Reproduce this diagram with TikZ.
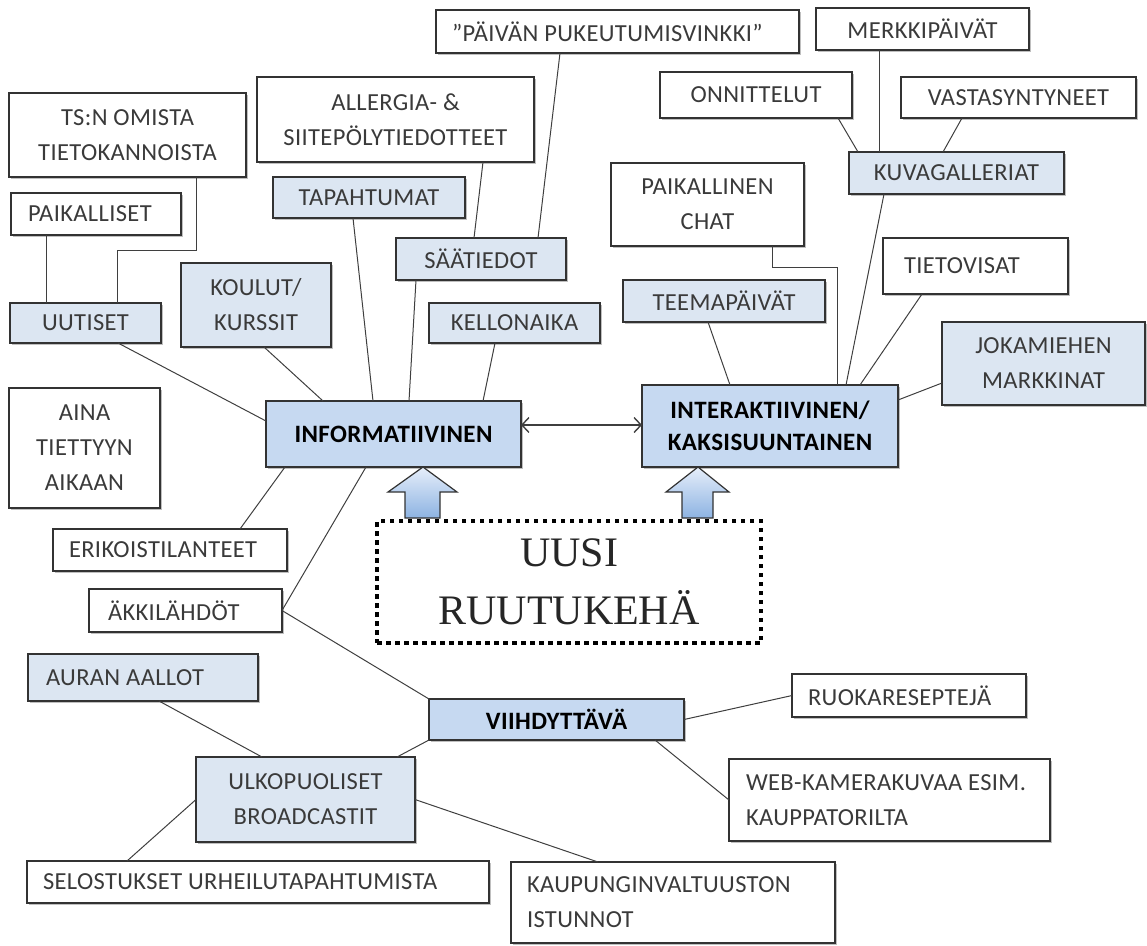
\documentclass[tikz,border=0pt]{standalone}
\usepackage{fontspec}
\setmainfont{Carlito}[LetterSpace=1.5]
\newfontfamily\bigserif{Liberation Serif}
\usetikzlibrary{arrows.meta,shadows}
\definecolor{lightfill}{HTML}{DCE6F2}
\definecolor{mainfill}{HTML}{C6D9F1}
\definecolor{edgecol}{HTML}{333333}
\definecolor{txt}{HTML}{3A3A3A}
\definecolor{wirecol}{HTML}{3F3F3F}
\definecolor{arrtop}{HTML}{E6EEFA}
\definecolor{arrbot}{HTML}{8DB3E2}
\begin{document}
\begin{tikzpicture}[x=1pt,y=-1pt,
  box/.style={draw=edgecol, line width=1.5pt, fill=white, inner sep=0pt, outer sep=0pt,
    font=\fontsize{24.5}{35}\selectfont, text=txt, align=flush center,
    drop shadow={shadow xshift=1.5pt, shadow yshift=-1.5pt, opacity=0.25, fill=black}},
  lbox/.style={box, fill=lightfill},
  mbox/.style={box, fill=mainfill, font=\fontsize{25}{32}\selectfont\bfseries, text=black},
  lft/.style={align=flush left, text width=#1},
  wire/.style={draw=wirecol, line width=1pt},
  blockarrow/.style={draw=edgecol, line width=1.2pt, top color=arrtop, bottom color=arrbot},
]
\useasboundingbox (0,0) rectangle (1147,945);

% top row
\node[box, lft=331pt, minimum width=363pt, minimum height=43pt] (paiv) at (617.5,31.5) {\mbox{”PÄIVÄN PUKEUTUMISVINKKI”}};
\node[box, minimum width=213pt, minimum height=42pt] (merk) at (922.5,29) {MERKKIPÄIVÄT};
\node[box, minimum width=192pt, minimum height=46pt] (onni) at (756,95) {ONNITTELUT};
\node[box, minimum width=235pt, minimum height=41pt] (vast) at (1018.5,97.5) {VASTASYNTYNEET};
\node[box, minimum width=277pt, minimum height=85pt] (alle) at (395.5,119.5) {ALLERGIA- \&\\SIITEPÖLYTIEDOTTEET};
\node[box, minimum width=237pt, minimum height=84pt] (tsn) at (127.5,135) {TS:N OMISTA\\TIETOKANNOISTA};
\node[box, lft=136pt, minimum width=170pt, minimum height=42pt] (paik) at (96,214) {PAIKALLISET};
\node[lbox, minimum width=192pt, minimum height=41pt] (tapa) at (369,197.5) {TAPAHTUMAT};
\node[lbox, minimum width=170pt, minimum height=42pt] (saat) at (481,259) {SÄÄTIEDOT};
\node[lbox, minimum width=215pt, minimum height=42pt] (kuva) at (956.5,173) {KUVAGALLERIAT};
\node[box, minimum width=193pt, minimum height=83pt] (chat) at (707.5,204.5) {PAIKALLINEN\\CHAT};
\node[box, lft=143pt, minimum width=185pt, minimum height=56pt] (tiet) at (975.5,266) {TIETOVISAT\\[-4pt]};
\node[lbox, minimum width=202pt, minimum height=42pt] (teem) at (724,301) {TEEMAPÄIVÄT};
\node[lbox, minimum width=150pt, minimum height=84pt] (koul) at (256,305) {KOULUT/\\KURSSIT};
\node[lbox, minimum width=151pt, minimum height=40pt] (uuti) at (85.5,323) {UUTISET};
\node[lbox, minimum width=171pt, minimum height=40pt] (kell) at (514.5,323) {KELLONAIKA};
\node[lbox, minimum width=203pt, minimum height=83pt] (joka) at (1043.5,363.5) {JOKAMIEHEN\\MARKKINAT};

% main boxes
\node[mbox, minimum width=255pt, minimum height=66pt] (info) at (393.5,434) {INFORMATIIVINEN};
\node[mbox, minimum width=256pt, minimum height=82pt] (inte) at (770,426) {INTERAKTIIVINEN/\\KAKSISUUNTAINEN};
\node[mbox, minimum width=255pt, minimum height=41pt] (viih) at (556.5,719.5) {VIIHDYTTÄVÄ};

% left column and bottom
\node[box, minimum width=151pt, minimum height=120pt] (aina) at (84.5,448) {AINA\\TIETTYYN\\AIKAAN};
\node[box, lft=202pt, minimum width=234pt, minimum height=42pt] (erik) at (170,550) {ERIKOISTILANTEET};
\node[box, lft=155pt, minimum width=193pt, minimum height=43pt] (akki) at (185.5,610.5) {ÄKKILÄHDÖT};
\node[lbox, lft=194pt, minimum width=230pt, minimum height=47pt] (aura) at (143,677.5) {AURAN AALLOT};
\node[box, lft=202pt, minimum width=234pt, minimum height=43pt] (ruok) at (909,695.5) {RUOKARESEPTEJÄ};
\node[lbox, minimum width=219pt, minimum height=85pt] (ulko) at (305.5,799.5) {ULKOPUOLISET\\BROADCASTIT};
\node[box, lft=287pt, minimum width=321pt, minimum height=82pt] (webk) at (889.5,800) {\mbox{WEB-KAMERAKUVAA ESIM.}\\KAUPPATORILTA};
\node[box, lft=430pt, minimum width=462pt, minimum height=42pt] (selo) at (258,882) {\mbox{SELOSTUKSET URHEILUTAPAHTUMISTA}};
\node[box, lft=292pt, minimum width=324pt, minimum height=81pt] (kaup) at (673,902.5) {KAUPUNGINVALTUUSTON\\ISTUNNOT};

% dotted centre box
\node[draw=black, line width=4.5pt, dash pattern=on 4.5pt off 4.5pt, inner sep=0pt, outer sep=0pt,
  minimum width=384pt, minimum height=122pt, align=flush center, text=black!85,
  font=\bigserif\fontsize{42}{58}\selectfont] (uusi) at (569,582) {UUSI\\RUUTUKEHÄ};

% block arrows
\draw[blockarrow] (423,467) -- (457,492) -- (440,492) -- (440,518) -- (405,518) -- (405,492) -- (388,492) -- cycle;
\draw[blockarrow] (698,467) -- (729,492) -- (713,492) -- (713,518) -- (682,518) -- (682,492) -- (666,492) -- cycle;

% connectors - informative side
\draw[wire] ([xshift=-50pt]paik.south) -- ([xshift=-39.5pt]uuti.north);
\draw[wire] ([xshift=68.5pt]tsn.south) -- ++(0,73) -| ([xshift=31.5pt]uuti.north);
\draw[wire] ([xshift=32.5pt]uuti.south) -- ([yshift=13pt]info.west);
\draw[wire] ([xshift=8pt]koul.south) -- ([xshift=-70.5pt]info.north);
\draw[wire] ([xshift=-16pt]tapa.south) -- ([xshift=-20.5pt]info.north);
\draw[wire] ([xshift=-65pt]saat.south) -- ([xshift=15.5pt]info.north);
\draw[wire] ([xshift=87.5pt]alle.south) -- ([xshift=-7pt]saat.north);
\draw[wire] ([xshift=-57.5pt]paiv.south) -- ([xshift=57pt]saat.north);
\draw[wire] ([xshift=-19.5pt]kell.south) -- ([xshift=89.5pt]info.north);
\draw[wire] ([xshift=-108.5pt]info.south) -- ([xshift=70pt]erik.north);
\draw[wire] ([xshift=-27.5pt]info.south) -- (akki.east);

% entertaining side
\draw[wire] (akki.east) -- (viih.north west);
\draw[wire] ([xshift=16pt]aura.south) -- ([xshift=-43.5pt]ulko.north);
\draw[wire] (viih.south west) -- ([xshift=91.5pt]ulko.north);
\draw[wire] (viih.east) -- (ruok.west);
\draw[wire] ([xshift=98.5pt]viih.south) -- (webk.west);
\draw[wire] (ulko.west) -- ([xshift=-131pt]selo.north);
\draw[wire] (ulko.east) -- ([xshift=-75pt]kaup.north);

% interactive side
\draw[wire] ([xshift=82pt]onni.south) -- ([xshift=-98.5pt]kuva.north);
\draw[wire] ([xshift=-43.5pt]merk.south) -- ([xshift=-77.5pt]kuva.north);
\draw[wire] ([xshift=-56.5pt]vast.south) -- ([xshift=-13.5pt]kuva.north);
\draw[wire] ([xshift=-72.5pt]kuva.south) -- ([xshift=76pt]inte.north);
\draw[wire] ([xshift=64.5pt]chat.south) -- ++(0,21) -| ([xshift=67pt]inte.north);
\draw[wire] ([xshift=-53.5pt]tiet.south) -- ([xshift=90pt]inte.north);
\draw[wire] ([xshift=-16pt]teem.south) -- ([xshift=-40pt]inte.north);
\draw[wire] ([yshift=-19.5pt]joka.west) -- ([yshift=26pt]inte.east);

% two-way arrow
\draw[draw=wirecol, line width=1.4pt, {Straight Barb[length=7pt,width=15pt]}-{Straight Barb[length=7pt,width=15pt]}]
  ([yshift=9pt]info.east) -- ([yshift=1pt]inte.west);
\end{tikzpicture}
\end{document}
